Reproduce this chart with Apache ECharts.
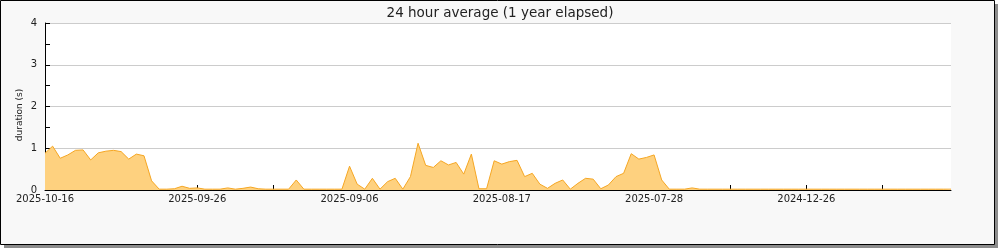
<!DOCTYPE html>
<html>
<head>
<meta charset="utf-8">
<script src="https://cdn.jsdelivr.net/npm/echarts@6/dist/echarts.min.js"></script>
<style>html,body{margin:0;padding:0;background:#fff}#c{width:1000px;height:250px}</style>
</head>
<body>
<div id="c"></div>
<script>
const titleText = '24 hour average (1 year elapsed)';
const yAxisName = 'duration (s)';
const tickLabels = ['2025-10-16', '2025-09-26', '2025-09-06', '2025-08-17', '2025-07-28', '2024-12-26'];
const durations = [
  0.88, 1.05, 0.76, 0.84, 0.95, 0.96, 0.72, 0.89, 0.93, 0.95,
  0.92, 0.74, 0.86, 0.82, 0.22, 0.02, 0.02, 0.03, 0.09, 0.04,
  0.05, 0.02, 0.02, 0.02, 0.05, 0.02, 0.04, 0.07, 0.03, 0.02,
  0.02, 0.02, 0.02, 0.24, 0.02, 0.02, 0.02, 0.02, 0.02, 0.02,
  0.57, 0.14, 0.02, 0.28, 0.02, 0.20, 0.28, 0.02, 0.32, 1.12,
  0.59, 0.54, 0.70, 0.60, 0.66, 0.38, 0.86, 0.03, 0.03, 0.70,
  0.62, 0.68, 0.71, 0.32, 0.40, 0.14, 0.04, 0.16, 0.24, 0.02,
  0.16, 0.28, 0.26, 0.03, 0.12, 0.32, 0.40, 0.87, 0.74, 0.78,
  0.84, 0.24, 0.02, 0.02, 0.02, 0.05, 0.02, 0.02, 0.02, 0.02,
  0.02, 0.02, 0.02, 0.02, 0.02, 0.02, 0.02, 0.02, 0.02, 0.02,
  0.02, 0.02, 0.02, 0.02, 0.02, 0.02, 0.02, 0.02, 0.02, 0.02,
  0.02, 0.02, 0.02, 0.02, 0.02, 0.02, 0.02, 0.02, 0.02, 0.02
];
const days = durations.map((_, i) => String(i));

const FONT = 'DejaVu Sans';
const chart = echarts.init(document.getElementById('c'), null, {renderer: 'canvas'});
chart.setOption({
  animation: false,
  backgroundColor: '#ffffff',
  graphic: [
    {type: 'rect', z: -100, silent: true, shape: {x: 4, y: 4, width: 994, height: 244}, style: {fill: '#8c8c8c'}},
    {type: 'rect', z: -99, silent: true, shape: {x: 0.5, y: 0.5, width: 994, height: 244}, style: {fill: '#f8f8f8', stroke: '#000', lineWidth: 1}},
    {type: 'text', z: 10, silent: true, x: 20, y: 115, rotation: Math.PI / 2,
      style: {text: yAxisName, font: '9px "DejaVu Sans"', fill: '#222', align: 'center', verticalAlign: 'middle'}}
  ],
  title: {
    text: titleText,
    left: 'center',
    top: 1,
    textStyle: {fontFamily: FONT, fontSize: 13.5, fontWeight: 'normal', color: '#222'}
  },
  grid: {
    left: 45, right: 49, top: 23, bottom: 60,
    show: true, backgroundColor: '#ffffff', borderWidth: 0
  },
  xAxis: {
    type: 'category',
    data: days,
    boundaryGap: false,
    axisLine: {lineStyle: {color: '#000', width: 1}},
    axisTick: {
      inside: true, length: 5, lineStyle: {color: '#000'},
      interval: (idx) => idx % 10 === 0
    },
    axisLabel: {
      interval: (idx) => idx % 20 === 0,
      formatter: (v, idx) => tickLabels[idx / 20] || '',
      fontFamily: FONT, fontSize: 10, color: '#222', margin: 4
    },
    splitLine: {show: false}
  },
  yAxis: {
    type: 'value',
    min: 0, max: 4, interval: 1,
    axisLine: {show: true, lineStyle: {color: '#000', width: 1}},
    axisTick: {show: true, inside: true, length: 5, lineStyle: {color: '#000'}},
    minorTick: {show: true, splitNumber: 2, length: 5, lineStyle: {color: '#000'}},
    axisLabel: {fontFamily: FONT, fontSize: 10, color: '#222', margin: 8},
    splitLine: {show: true, lineStyle: {color: '#cccccc', width: 1}}
  },
  series: [{
    type: 'line',
    data: durations,
    showSymbol: false,
    symbol: 'none',
    lineStyle: {color: '#f5a623', width: 1},
    areaStyle: {color: '#fed17f', opacity: 1},
    itemStyle: {color: '#f5a623'}
  }]
});
</script>
</body>
</html>
